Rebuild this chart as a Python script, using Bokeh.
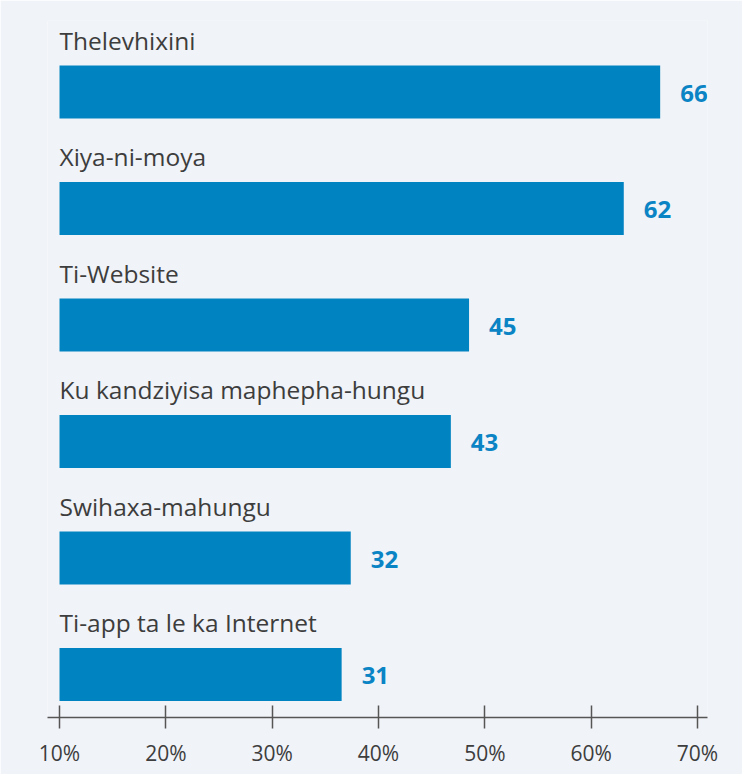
from bokeh.plotting import figure
from bokeh.models import ColumnDataSource, Range1d, LinearAxis, FixedTicker
from bokeh.core.properties import value
from bokeh.embed import file_html
from bokeh.resources import INLINE

categories = ["Thelevhixini", "Xiya-ni-moya", "Ti-Website",
              "Ku kandziyisa maphepha-hungu", "Swihaxa-mahungu",
              "Ti-app ta le ka Internet"]
values = [66, 62, 45, 43, 32, 31]
axis_ticks = [10, 20, 30, 40, 50, 60, 70]
tick_labels = ["10%", "20%", "30%", "40%", "50%", "60%", "70%"]

BG = "#f0f3f8"
BAR = "#0083c1"
VAL = "#0a84c4"
TXT = "#3d3d3d"
FONT = "Open Sans"

n = len(categories)
rows = [n - 1 - i for i in range(n)]
src = ColumnDataSource(dict(cat=categories, val=values, y=rows,
                            lab=[str(v) for v in values]))

p = figure(width=742, height=774, output_backend="svg", toolbar_location=None,
           x_axis_location=None, y_axis_location=None,
           x_range=Range1d(-1.32, 71.2), y_range=Range1d(-0.369, 5.614),
           min_border_left=47, min_border_right=35, min_border_top=20,
           min_border_bottom=57)
p.background_fill_color = BG
p.border_fill_color = BG
p.outline_line_color = None
p.grid.visible = False

p.hbar(y="y", left=0, right="val", height=0.455, source=src,
       fill_color=BAR, line_color=None)

p.text(x=0, y="y", text="cat", source=src, y_offset=-52,
       text_font=value(FONT), text_font_size="24.5px", text_color=TXT,
       text_baseline="alphabetic", text_align="left")

p.text(x="val", y="y", text="lab", source=src, x_offset=20, y_offset=1,
       text_font=value(FONT), text_font_size="24px", text_font_style="bold",
       text_color=VAL, text_baseline="middle", text_align="left")

p.extra_x_ranges = {"pct": Range1d(8.871, 70.94)}
ax = LinearAxis(x_range_name="pct")
ax.ticker = FixedTicker(ticks=axis_ticks)
ax.major_label_overrides = {t: l for t, l in zip(axis_ticks, tick_labels)}
ax.minor_tick_line_color = None
ax.major_tick_in = 12
ax.major_tick_out = 11
ax.axis_line_color = "#555555"
ax.major_tick_line_color = "#555555"
ax.axis_line_width = 1.5
ax.major_tick_line_width = 1.5
ax.major_label_text_font = FONT
ax.major_label_text_font_size = "21px"
ax.major_label_text_color = TXT
ax.major_label_standoff = 10
p.add_layout(ax, "below")

open("out.html", "w").write(file_html(p, INLINE))
